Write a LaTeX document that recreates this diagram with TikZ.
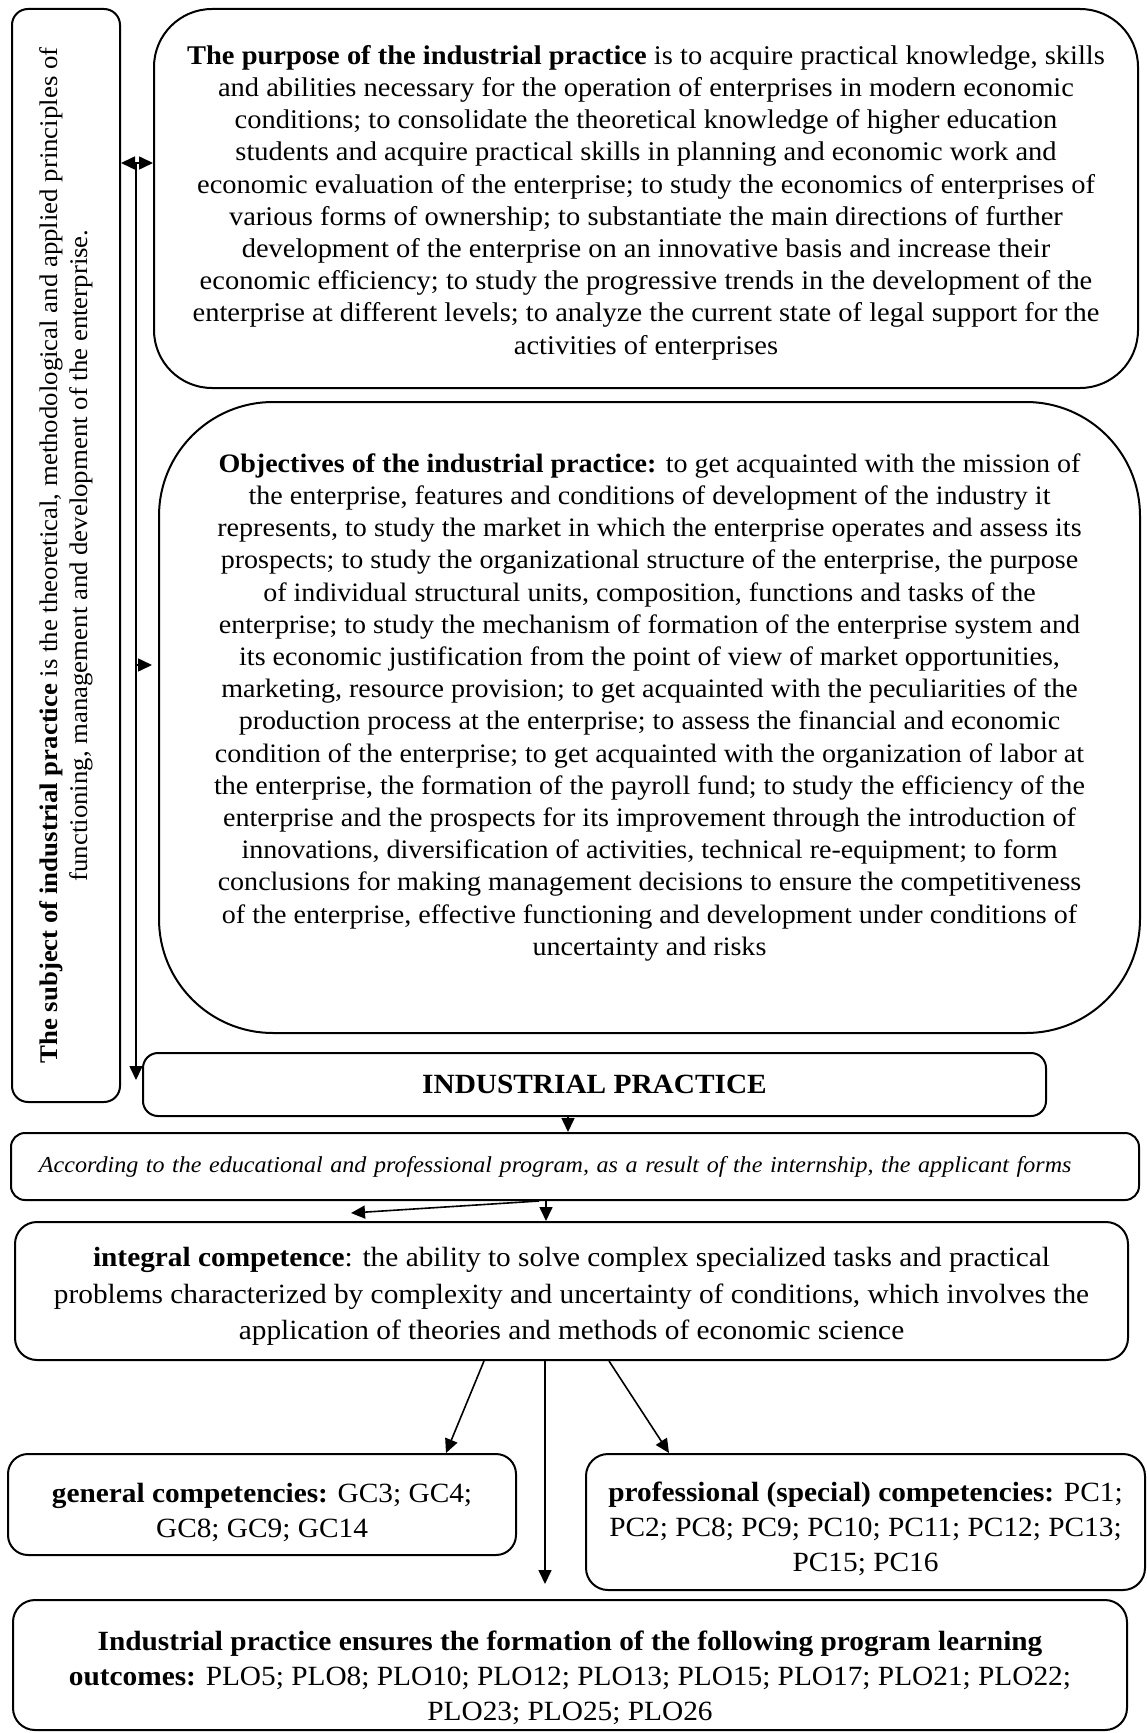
\documentclass[tikz,border=0pt]{standalone}
\usepackage{fontspec}
\setmainfont{Liberation Serif}[FakeStretch=1.055]
\usetikzlibrary{arrows.meta}
\newcommand\dnstrut[1]{\rule{0pt}{\dimexpr 9.6pt+#1\relax}}
\newcommand\upstrut[1]{\rule[-#1]{0pt}{#1}}
\begin{document}
\begin{tikzpicture}[x=0.5pt,y=-0.5pt,
  box/.style={draw, line width=1pt, align=center, inner sep=0pt},
  arr/.style={-{Triangle[length=7pt,width=6.5pt]}, line width=0.8pt},
  ftxtb/.style={font=\fontsize{13.9}{18.2}\selectfont},
  ftxtc/.style={font=\fontsize{13.9}{17.5}\selectfont}]
\useasboundingbox (0,0) rectangle (1146,1733);

\node[box, rounded corners=8pt, rotate=90, minimum width=546.5pt, minimum height=54pt,
  font=\fontsize{12.7}{14.8}\selectfont] (subj) at (66,555.5)
  {\textbf{The subject of industrial practice} is the theoretical, methodological and applied principles of\\
   functioning, management and development of the enterprise.};

\node[box, font=\fontsize{13.5}{16.1}\selectfont, rounded corners=29pt, minimum width=492pt, minimum height=189.5pt] (purp) at (646,198.5)
  {\dnstrut{4pt}\textbf{The purpose of the industrial practice} is to acquire practical knowledge, skills\\
   and abilities necessary for the operation of enterprises in modern economic\\
   conditions; to consolidate the theoretical knowledge of higher education\\
   students and acquire practical skills in planning and economic work and\\
   economic evaluation of the enterprise; to study the economics of enterprises of\\
   various forms of ownership; to substantiate the main directions of further\\
   development of the enterprise on an innovative basis and increase their\\
   economic efficiency; to study the progressive trends in the development of the\\
   enterprise at different levels; to analyze the current state of legal support for the\\
   activities of enterprises};

\node[box, font=\fontsize{13.3}{16.1}\selectfont, rounded corners=57pt, minimum width=490.5pt, minimum height=315.5pt] (obj) at (649.5,717.5)
  {\textbf{Objectives of the industrial practice:} to get acquainted with the mission of\\
   the enterprise, features and conditions of development of the industry it\\
   represents, to study the market in which the enterprise operates and assess its\\
   prospects; to study the organizational structure of the enterprise, the purpose\\
   of individual structural units, composition, functions and tasks of the\\
   enterprise; to study the mechanism of formation of the enterprise system and\\
   its economic justification from the point of view of market opportunities,\\
   marketing, resource provision; to get acquainted with the peculiarities of the\\
   production process at the enterprise; to assess the financial and economic\\
   condition of the enterprise; to get acquainted with the organization of labor at\\
   the enterprise, the formation of the payroll fund; to study the efficiency of the\\
   enterprise and the prospects for its improvement through the introduction of\\
   innovations, diversification of activities, technical re-equipment; to form\\
   conclusions for making management decisions to ensure the competitiveness\\
   of the enterprise, effective functioning and development under conditions of\\
   uncertainty and risks\upstrut{13pt}};

\node[box, rounded corners=7.5pt, minimum width=451.5pt, minimum height=31.5pt,
  font=\fontsize{13.9}{17}\selectfont\bfseries] (ind) at (594.5,1084.5) {INDUSTRIAL PRACTICE};

\node[box, rounded corners=7pt, minimum width=564pt, minimum height=33.5pt, text width=536pt, align=left,
  font=\fontsize{11.4}{14}\selectfont\itshape] (acc) at (575,1166.5)
  {According to the educational and professional program, as a result of the internship, the applicant forms};

\node[box, ftxtb, rounded corners=11pt, minimum width=556.5pt, minimum height=69pt] (integ) at (571.5,1291)
  {\dnstrut{5.5pt}\textbf{integral competence}: the ability to solve complex specialized tasks and practical\\
   problems characterized by complexity and uncertainty of conditions, which involves the\\
   application of theories and methods of economic science};

\node[box, ftxtc, rounded corners=10pt, minimum width=254pt, minimum height=50.5pt] (gen) at (262,1504.5)
  {\dnstrut{8pt}\textbf{general competencies:} GC3; GC4;\\ GC8; GC9; GC14};

\node[box, ftxtc, rounded corners=11pt, minimum width=279.5pt, minimum height=68pt] (prof) at (865.5,1522)
  {\dnstrut{7pt}\textbf{professional (special) competencies:} PC1;\\ PC2; PC8; PC9; PC10; PC11; PC12; PC13;\\ PC15; PC16};

\node[box, ftxtc, rounded corners=11pt, minimum width=557pt, minimum height=65pt] (plo) at (570,1665)
  {\dnstrut{13pt}\textbf{Industrial practice ensures the formation of the following program learning}\\
   \textbf{outcomes:} PLO5; PLO8; PLO10; PLO12; PLO13; PLO15; PLO17; PLO21; PLO22;\\
   PLO23; PLO25; PLO26};

% left connector system
\coordinate (v1) at (136,163);
\coordinate (v2) at (136,1080);
\coordinate (v3) at (136,665);
\coordinate (v4) at (152,665);
\draw[arr] (v1) -- (v2);
\draw[arr] (v1) -- (v1 -| subj.south);
\draw[arr] (v1) -- (v1 -| purp.west);
\draw[arr] (v3) -- (v4);

% lower connectors
\coordinate (a1) at (568,0);
\draw[arr] (ind.south -| a1) -- (acc.north -| a1);
\coordinate (b0) at (539,0);
\coordinate (b1) at (546,0);
\coordinate (b2) at (351,1213);
\draw[arr] (acc.south -| b1) -- (integ.north -| b1);
\draw[arr] (acc.south -| b0) -- (b2);
\coordinate (c1) at (484,0);
\coordinate (c2) at (446,0);
\draw[arr] (integ.south -| c1) -- (gen.north -| c2);
\coordinate (d1) at (545,0);
\coordinate (d2) at (545,1584);
\draw[arr] (integ.south -| d1) -- (d2);
\coordinate (e1) at (609,0);
\coordinate (e2) at (669,0);
\draw[arr] (integ.south -| e1) -- (prof.north -| e2);
\end{tikzpicture}
\end{document}
